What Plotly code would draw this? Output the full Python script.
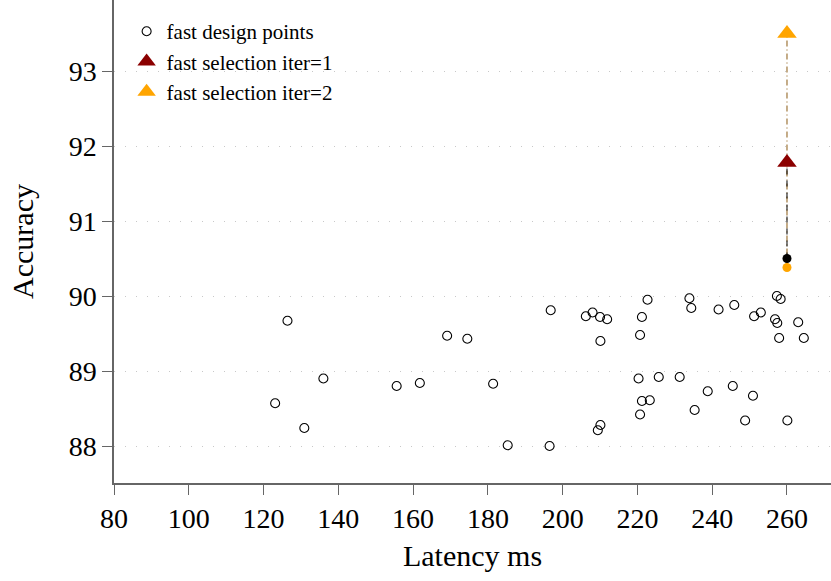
import plotly.graph_objects as go

# ---- data ----
design_latency = [123.1, 126.4, 130.9, 136.0, 155.6, 161.8, 169.1,
                  174.5, 181.4, 185.3, 196.5, 196.8,
                  206.2, 208.0, 210.0, 211.9, 210.1, 210.1, 209.4,
                  222.7, 221.2, 220.7, 220.3, 225.7, 231.3, 221.2, 223.3, 220.7,
                  233.9, 234.4, 241.7, 245.9, 238.8, 235.3, 245.5, 250.9, 248.8,
                  251.2, 253.0, 257.3, 258.3, 256.8, 257.4, 257.9, 260.1, 263.0, 264.5]
design_accuracy = [88.57, 89.67, 88.24, 88.90, 88.80, 88.84, 89.47,
                   89.43, 88.83, 88.01, 88.00, 89.81,
                   89.73, 89.78, 89.72, 89.69, 89.40, 88.28, 88.21,
                   89.95, 89.72, 89.48, 88.90, 88.92, 88.92, 88.60, 88.61, 88.42,
                   89.97, 89.84, 89.82, 89.88, 88.73, 88.48, 88.80, 88.67, 88.34,
                   89.73, 89.78, 90.00, 89.96, 89.69, 89.64, 89.44, 88.34, 89.65, 89.44]

sel_latency = [260.0]
start_acc_1 = [90.50]   # black start point
start_acc_2 = [90.38]   # orange start point
iter1_acc = [91.78]
iter2_acc = [93.50]

x_ticks = [80, 100, 120, 140, 160, 180, 200, 220, 240, 260]
y_ticks = [88, 89, 90, 91, 92, 93]

FONT = "Liberation Serif"
AXIS_COLOR = "#666666"

fig = go.Figure()

# connecting lines
fig.add_trace(go.Scatter(
    x=sel_latency * 2, y=[start_acc_2[0], iter2_acc[0]], mode="lines",
    line=dict(color="#8a5a12", width=1, dash="6px,3px,1px,3px"),
    showlegend=False, hoverinfo="skip"))
fig.add_trace(go.Scatter(
    x=sel_latency * 2, y=[start_acc_1[0], iter1_acc[0]], mode="lines",
    line=dict(color="black", width=1, dash="6px,6px"),
    showlegend=False, hoverinfo="skip"))

fig.add_trace(go.Scatter(
    x=design_latency, y=design_accuracy, mode="markers",
    name="fast design points",
    marker=dict(symbol="circle-open", size=9, color="black", line=dict(width=1.1, color="black"))))

fig.add_trace(go.Scatter(
    x=sel_latency, y=start_acc_1, mode="markers", showlegend=False,
    marker=dict(symbol="circle", size=9, color="black")))
fig.add_trace(go.Scatter(
    x=sel_latency, y=start_acc_2, mode="markers", showlegend=False,
    marker=dict(symbol="circle", size=9, color="#FFA500")))

fig.add_trace(go.Scatter(
    x=sel_latency, y=iter1_acc, mode="markers", name="fast selection iter=1",
    marker=dict(symbol="triangle-up", size=17, color="#8B0000", line=dict(width=0))))
fig.add_trace(go.Scatter(
    x=sel_latency, y=iter2_acc, mode="markers", name="fast selection iter=2",
    marker=dict(symbol="triangle-up", size=17, color="#FFA500", line=dict(width=0))))

fig.update_layout(
    width=831, height=581,
    margin=dict(l=114, r=0, t=0, b=98, pad=0),
    plot_bgcolor="white", paper_bgcolor="white",
    font=dict(family=FONT, color="black", size=28),
    legend=dict(x=0.0176, y=0.977, xanchor="left", yanchor="top",
                bgcolor="rgba(0,0,0,0)", font=dict(family=FONT, size=21, color="black"),
                itemsizing="trace", tracegroupgap=0),
    xaxis=dict(range=[80, 271.77], tickmode="array", tickvals=x_ticks,
               ticks="outside", ticklen=10, tickcolor=AXIS_COLOR, tickwidth=1.2,
               showline=True, linecolor=AXIS_COLOR, linewidth=1.5,
               showgrid=False, zeroline=False,
               tickfont=dict(family=FONT, size=28),
               title=dict(text="Latency ms", font=dict(family=FONT, size=30), standoff=12)),
    yaxis=dict(range=[87.507, 93.947], tickmode="array", tickvals=y_ticks,
               ticks="outside", ticklen=10, tickcolor=AXIS_COLOR, tickwidth=1.2,
               showline=True, linecolor=AXIS_COLOR, linewidth=1.5,
               showgrid=True, gridcolor="#c8c8c8", gridwidth=1.2, griddash="1px,10px",
               zeroline=False,
               tickfont=dict(family=FONT, size=28),
               title=dict(text="Accuracy", font=dict(family=FONT, size=30), standoff=26)),
)

fig.write_html("out.html")
